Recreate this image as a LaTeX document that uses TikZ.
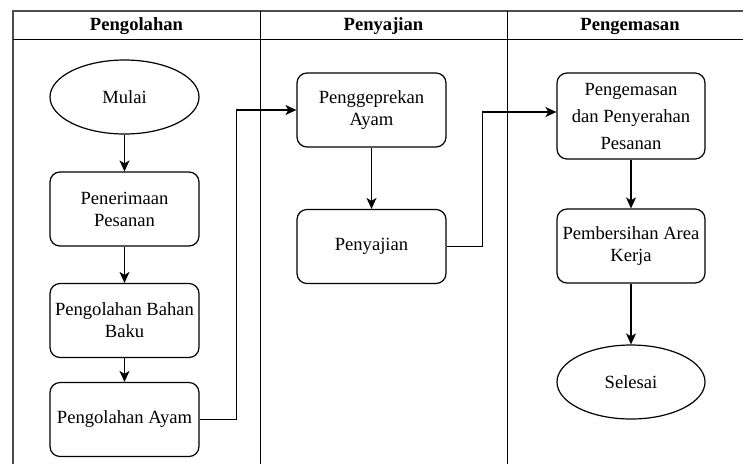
\documentclass[tikz,border=0pt]{standalone}
\usepackage{fontspec}
\setmainfont{Liberation Serif}
\newfontfamily\timesfont{Liberation Serif}
\usetikzlibrary{arrows.meta,shapes.geometric}

\begin{document}
\begin{tikzpicture}[x=1pt,y=-1pt,
  every node/.style={font=\timesfont\fontsize{18.6}{22}\selectfont},
  proses/.style={draw,rectangle,rounded corners=10pt,line width=1.2pt,minimum width=149pt,minimum height=74pt,align=center,inner sep=0pt},
  terminal/.style={draw,ellipse,line width=1.2pt,minimum width=149pt,minimum height=74pt,inner sep=0pt},
  alur/.style={line width=1.4pt,-{Stealth[length=11pt,width=10pt,inset=3pt]}},
  judul/.style={font=\timesfont\fontsize{18.6}{22}\selectfont\bfseries}]
\useasboundingbox (0,0) rectangle (743,464);
%\draw[help lines] (0,0) grid[step=20] (743,464);

% lanes
\draw[line width=1.2pt,black!70] (13,464) -- (13,11) -- (743,11);
\draw[line width=1pt] (13,39) -- (743,39);
\draw[line width=1pt] (260,11) -- (260,464);
\draw[line width=1pt] (507,11) -- (507,464);

\node[judul] (h_olah) at (136.5,26) {Pengolahan};
\node[judul] (h_saji) at (383.5,26) {Penyajian};
\node[judul] (h_kemas) at (630,26) {Pengemasan};

% Pengolahan
\node[terminal] (mulai) at (124.5,97) {Mulai};
\node[proses] (terima) at (124.5,209) {Penerimaan\\Pesanan};
\node[proses] (bahan) at (124.5,320.5) {Pengolahan Bahan\\Baku};
\node[proses] (ayam) at (124.5,419.5) {Pengolahan Ayam};

% Penyajian
\node[proses] (geprek) at (371.5,110) {Penggeprekan\\Ayam};
\node[proses] (saji) at (371.5,246.5) {Penyajian};

% Pengemasan
\node[proses,minimum width=148pt,minimum height=86pt,font=\timesfont\fontsize{18.6}{27}\selectfont] (kemas) at (631,116) {Pengemasan\\dan Penyerahan\\Pesanan};
\node[proses,minimum width=148pt] (bersih) at (631,246) {Pembersihan Area\\Kerja};
\node[terminal,minimum width=148pt] (selesai) at (631,382) {Selesai};

\draw[alur] (mulai) -- (terima);
\draw[alur] (terima) -- (bahan);
\draw[alur] (bahan) -- (ayam);
\draw[alur] (ayam.east) -- ++(37,0) |- (geprek.west);
\draw[alur] (geprek) -- (saji);
\draw[alur] (saji.east) -- ++(36,0) |- ([yshift=4pt]kemas.west);
\draw[alur] (kemas) -- (bersih);
\draw[alur] (bersih) -- (selesai);
\end{tikzpicture}
\end{document}
